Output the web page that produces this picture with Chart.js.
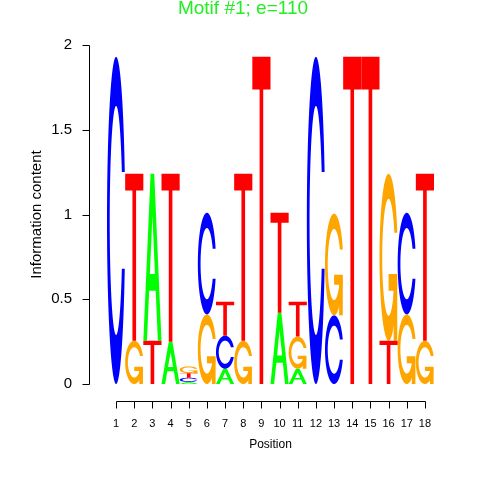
<!DOCTYPE html>
<html>
<head>
<meta charset="utf-8">
<script src="https://cdn.jsdelivr.net/npm/chart.js@4/dist/chart.umd.min.js"></script>
<style>
html,body{margin:0;padding:0;background:#fff;}
#wrap{width:480px;height:480px;}
</style>
</head>
<body>
<div id="wrap"><canvas id="c" width="480" height="480"></canvas></div>
<script>
// ---- data (information content per letter, per position) ----
const positions = ["1","2","3","4","5","6","7","8","9","10","11","12","13","14","15","16","17","18"];
const heightA = [0, 0, 0.985, 0.25, 0.012, 0, 0.09, 0, 0, 0.42, 0.09, 0, 0, 0, 0, 0, 0, 0];
const heightC = [1.93, 0, 0, 0, 0.025, 0.60, 0.195, 0, 0, 0, 0, 1.93, 0.405, 0, 0, 0, 0.60, 0];
const heightG = [0, 0.255, 0, 0, 0.04, 0.41, 0, 0.255, 0, 0, 0.19, 0, 0.60, 0, 0, 0.985, 0.41, 0.255];
const heightT = [0, 0.985, 0.255, 0.99, 0.027, 0, 0.2, 0.985, 1.93, 0.59, 0.205, 0, 0, 1.93, 1.93, 0.255, 0, 0.985];
const yTicks = [0, 0.5, 1, 1.5, 2];
const yTickLabels = ["0", "0.5", "1", "1.5", "2"];
const titleText = "Motif #1; e=110";
const xTitle = "Position";
const yTitle = "Information content";

const letters = ["A","C","G","T"];
const heights = {A: heightA, C: heightC, G: heightG, T: heightT};
const colors = {A: "#00FF00", C: "#0000FF", G: "#FFA500", T: "#FF0000"};

// build floating bar ranges: smallest letter at the bottom of each column
const ranges = {A: [], C: [], G: [], T: []};
for (let i = 0; i < positions.length; i++) {
  const order = letters.slice().sort((a, b) => heights[a][i] - heights[b][i]);
  let base = 0;
  for (const L of order) {
    const h = heights[L][i];
    ranges[L][i] = h > 0 ? [base, base + h] : null;
    base += h;
  }
}

// ---- glyph shapes (unit square, y up) ----
function arcPts() {
  const n = 100;
  const a1 = [], a2 = [];
  for (let k = 0; k < n; k++) {
    a1.push(0.3 + Math.PI / 2 + (Math.PI - (0.3 + Math.PI / 2)) * k / (n - 1));
    a2.push(Math.PI + (0.5 * Math.PI) * k / (n - 1));
  }
  const xl = [], yl = [];
  a1.forEach(a => { xl.push(0.5 + 0.5 * Math.sin(a)); yl.push(0.5 + 0.5 * Math.cos(a)); });
  a2.forEach(a => { xl.push(0.5 + 0.5 * Math.sin(a)); yl.push(0.5 + 0.5 * Math.cos(a)); });
  const maxY1 = Math.max(...a1.map(a => 0.5 + 0.5 * Math.cos(a)));
  const x = xl.concat(xl.slice().reverse());
  const y = yl.concat(yl.slice().reverse().map(v => 1 - v));
  let xi1 = [], yi1 = [];
  a1.forEach(a => {
    const yy = 0.5 + 0.35 * Math.cos(a);
    if (yy <= maxY1) { xi1.push(0.5 + 0.35 * Math.sin(a)); yi1.push(yy); }
  });
  yi1[0] = maxY1;
  const xi = xi1.slice(), yi = yi1.slice();
  a2.forEach(a => { xi.push(0.5 + 0.35 * Math.sin(a)); yi.push(0.5 + 0.35 * Math.cos(a)); });
  const x1 = xi.concat(xi.slice().reverse());
  const y1 = yi.concat(yi.slice().reverse().map(v => 1 - v));
  const X = x.concat(x1.slice().reverse());
  const Y = y.concat(y1.slice().reverse());
  return {X, Y, r1: Math.max(...a1.map(a => 0.5 + 0.5 * Math.sin(a)))};
}
const CSHAPE = arcPts();
function glyphPolys(L) {
  if (L === "T") {
    return [{pts: [[0,1],[1,1],[1,0.9],[0.6,0.9],[0.6,0],[0.4,0],[0.4,0.9],[0,0.9]], fill: null}];
  }
  if (L === "A") {
    return [
      {pts: [[0,0],[0.4,1],[0.6,1],[1,0],[0.8,0],[0.68,0.3],[0.32,0.3],[0.2,0],[0,0]], fill: null},
      {pts: [[0.36,0.4],[0.5,0.75],[0.64,0.4],[0.36,0.4]], fill: "#FFFFFF"}
    ];
  }
  const c = CSHAPE.X.map((xx, k) => [xx, CSHAPE.Y[k]]);
  if (L === "C") return [{pts: c, fill: null}];
  const r1 = CSHAPE.r1, h1 = 0.4;
  return [
    {pts: c, fill: null},
    {pts: [[r1,h1],[0.5,h1],[0.5,h1-0.1],[r1-0.2,h1-0.1],[r1-0.2,0],[r1,0],[r1,h1]], fill: null}
  ];
}

const logoPlugin = {
  id: "logo",
  afterDatasetsDraw(chart) {
    const ctx = chart.ctx;
    chart.data.datasets.forEach((ds, di) => {
      const meta = chart.getDatasetMeta(di);
      const L = ds.label;
      meta.data.forEach((el, i) => {
        if (!ds.data[i]) return;
        const left = el.x - el.width / 2;
        const w = el.width;
        const top = Math.min(el.y, el.base);
        const bottom = Math.max(el.y, el.base);
        const h = bottom - top;
        glyphPolys(L).forEach(p => {
          ctx.beginPath();
          p.pts.forEach((pt, k) => {
            const px = left + pt[0] * w, py = bottom - pt[1] * h;
            if (k === 0) ctx.moveTo(px, py); else ctx.lineTo(px, py);
          });
          ctx.closePath();
          ctx.fillStyle = p.fill || colors[L];
          ctx.fill();
        });
      });
    });
  },
  afterDraw(chart) {
    const ctx = chart.ctx;
    const xs = chart.scales.x, ys = chart.scales.y;
    ctx.save();
    ctx.strokeStyle = "#000";
    ctx.fillStyle = "#000";
    ctx.lineWidth = 1;
    // y axis
    const ax = 89.5;
    ctx.beginPath();
    ctx.moveTo(ax, Math.round(ys.getPixelForValue(yTicks[0])) + 0.5);
    ctx.lineTo(ax, Math.round(ys.getPixelForValue(yTicks[yTicks.length - 1])) + 0.5);
    yTicks.forEach(v => {
      const py = Math.round(ys.getPixelForValue(v)) + 0.5;
      ctx.moveTo(ax, py); ctx.lineTo(ax - 7, py);
    });
    ctx.stroke();
    ctx.font = "15px 'Liberation Sans', Arial, sans-serif";
    ctx.textAlign = "right";
    ctx.textBaseline = "middle";
    yTicks.forEach((v, k) => ctx.fillText(yTickLabels[k], 72, ys.getPixelForValue(v)));
    // x axis
    const ay = 401.5;
    const x0 = Math.round(xs.getPixelForValue(0)) + 0.5;
    const x1 = Math.round(xs.getPixelForValue(positions.length - 1)) + 0.5;
    ctx.beginPath();
    ctx.moveTo(x0, ay); ctx.lineTo(x1, ay);
    positions.forEach((p, i) => {
      const px = Math.round(xs.getPixelForValue(i)) + 0.5;
      ctx.moveTo(px, ay); ctx.lineTo(px, ay + 7);
    });
    ctx.stroke();
    ctx.font = "11px 'Liberation Sans', Arial, sans-serif";
    ctx.textAlign = "center";
    positions.forEach((p, i) => ctx.fillText(p, xs.getPixelForValue(i), 424));
    ctx.font = "12px 'Liberation Sans', Arial, sans-serif";
    ctx.fillText(xTitle, (xs.left + xs.right) / 2, 445);
    // y title
    ctx.save();
    ctx.translate(37, (ys.top + ys.bottom) / 2);
    ctx.rotate(-Math.PI / 2);
    ctx.font = "15px 'Liberation Sans', Arial, sans-serif";
    ctx.fillText(yTitle, 0, 0);
    ctx.restore();
    // title
    ctx.fillStyle = "#22EE22";
    ctx.font = "19px 'Liberation Sans', Arial, sans-serif";
    ctx.fillText(titleText, 243, 9);
    ctx.restore();
  }
};

new Chart(document.getElementById("c"), {
  type: "bar",
  data: {
    labels: positions,
    datasets: letters.map(L => ({
      label: L,
      data: ranges[L],
      backgroundColor: "rgba(0,0,0,0)",
      borderWidth: 0,
      barPercentage: 1,
      categoryPercentage: 1,
      grouped: false
    }))
  },
  options: {
    responsive: false,
    animation: false,
    devicePixelRatio: 1,
    layout: {padding: {left: 107, right: 46, top: 45, bottom: 96}},
    plugins: {legend: {display: false}, tooltip: {enabled: false}, title: {display: false}},
    scales: {
      x: {display: false, offset: true, grid: {display: false}},
      y: {display: false, min: 0, max: 2}
    }
  },
  plugins: [logoPlugin]
});
</script>
</body>
</html>
